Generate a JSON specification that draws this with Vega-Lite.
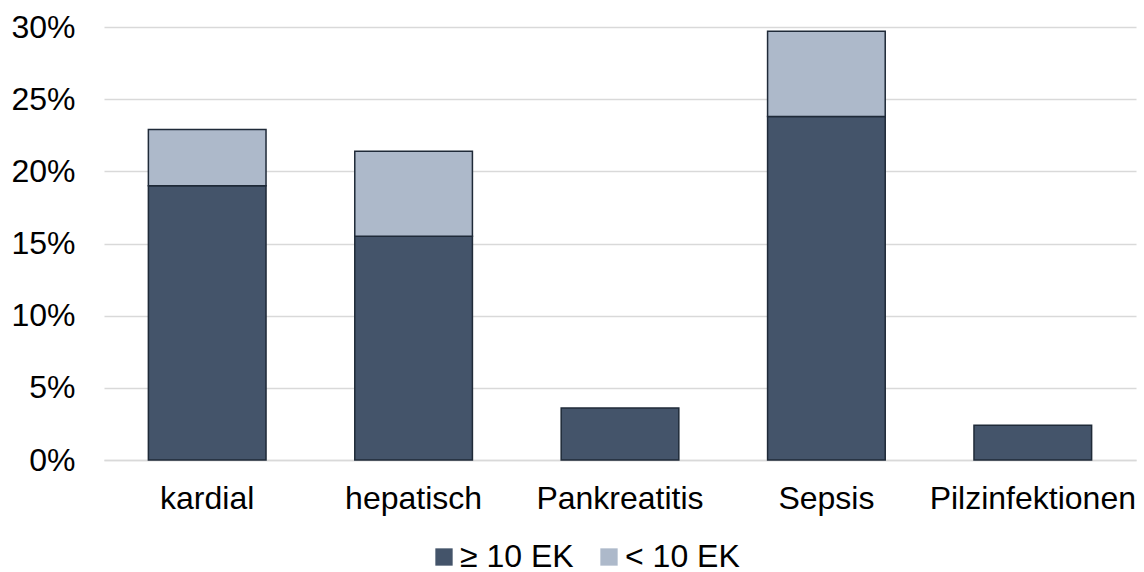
{
  "$schema": "https://vega.github.io/schema/vega-lite/v6.json",
  "width": 1032,
  "height": 433,
  "autosize": {"type": "none"},
  "padding": {"left": 104, "top": 27, "right": 8, "bottom": 112},
  "background": "white",
  "config": {
    "view": {"stroke": null},
    "font": "Liberation Sans",
    "axis": {"labelFont": "Liberation Sans", "labelColor": "#000000", "labelFontSize": 32, "labelLimit": 0},
    "legend": {"labelFont": "Liberation Sans", "labelColor": "#000000", "labelFontSize": 32, "labelLimit": 0}
  },
  "data": {
    "values": [
      {"kategorie": "kardial", "gruppe": "≥ 10 EK", "ord": 1, "anteil": 0.190},
      {"kategorie": "kardial", "gruppe": "< 10 EK", "ord": 2, "anteil": 0.039},
      {"kategorie": "hepatisch", "gruppe": "≥ 10 EK", "ord": 1, "anteil": 0.155},
      {"kategorie": "hepatisch", "gruppe": "< 10 EK", "ord": 2, "anteil": 0.059},
      {"kategorie": "Pankreatitis", "gruppe": "≥ 10 EK", "ord": 1, "anteil": 0.036},
      {"kategorie": "Pankreatitis", "gruppe": "< 10 EK", "ord": 2, "anteil": 0.0},
      {"kategorie": "Sepsis", "gruppe": "≥ 10 EK", "ord": 1, "anteil": 0.238},
      {"kategorie": "Sepsis", "gruppe": "< 10 EK", "ord": 2, "anteil": 0.059},
      {"kategorie": "Pilzinfektionen", "gruppe": "≥ 10 EK", "ord": 1, "anteil": 0.024},
      {"kategorie": "Pilzinfektionen", "gruppe": "< 10 EK", "ord": 2, "anteil": 0.0}
    ]
  },
  "transform": [{"filter": "datum.anteil > 0"}],
  "mark": {"type": "bar", "stroke": "#1f2a38", "strokeWidth": 1.5},
  "encoding": {
    "x": {
      "field": "kategorie",
      "type": "nominal",
      "sort": ["kardial", "hepatisch", "Pankreatitis", "Sepsis", "Pilzinfektionen"],
      "scale": {"paddingInner": 0.43, "paddingOuter": 0.215},
      "axis": {"title": null, "labelAngle": 0, "ticks": false, "domain": true, "domainColor": "#d9d9d9", "domainWidth": 1.5, "labelPadding": 23, "labelLimit": 0}
    },
    "y": {
      "field": "anteil",
      "type": "quantitative",
      "stack": "zero",
      "scale": {"domain": [0, 0.3], "nice": false},
      "axis": {
        "title": null,
        "values": [0, 0.05, 0.1, 0.15, 0.2, 0.25, 0.3],
        "format": ".0%",
        "domain": false,
        "ticks": false,
        "labelPadding": 29,
        "gridColor": "#d9d9d9",
        "gridWidth": 1.5
      }
    },
    "color": {
      "field": "gruppe",
      "type": "nominal",
      "scale": {"domain": ["≥ 10 EK", "< 10 EK"], "range": ["#44546A", "#ADB9CA"]},
      "legend": {
        "title": null,
        "orient": "none",
        "legendX": 324,
        "legendY": 514,
        "direction": "horizontal",
        "symbolType": "square",
        "symbolSize": 300,
        "symbolStrokeWidth": 0,
        "labelOffset": 0,
        "columnPadding": 19
      }
    },
    "order": {"field": "ord", "type": "quantitative"}
  }
}
